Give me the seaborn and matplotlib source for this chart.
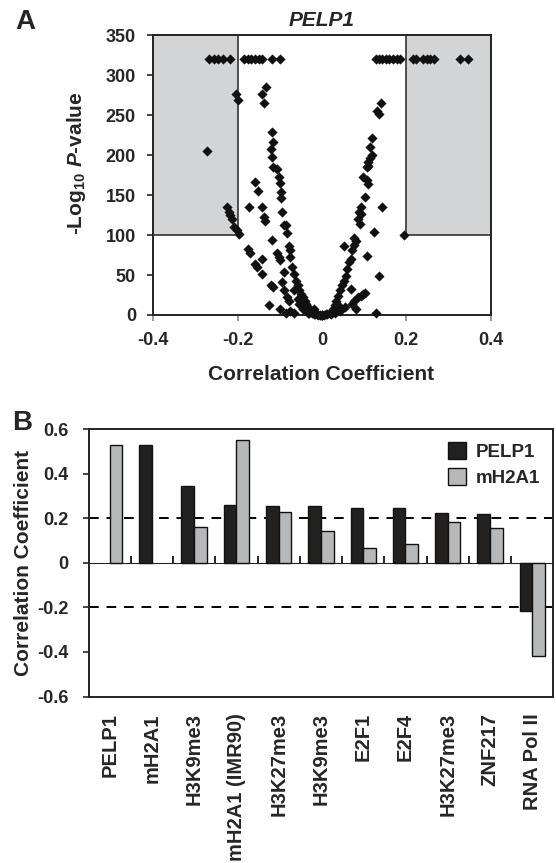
import matplotlib
matplotlib.use('Agg')
import matplotlib.pyplot as plt
import pandas as pd
import seaborn as sns

# panel A: correlation vs -log10 p
top_r = [-0.267, -0.255, -0.246, -0.234, -0.217, -0.184, -0.176, -0.168, -0.159, -0.150,
         -0.143, -0.118, -0.100, 0.127, 0.135, 0.143, 0.152, 0.160, 0.169, 0.177, 0.185,
         0.215, 0.223, 0.240, 0.248, 0.256, 0.265, 0.328, 0.346]
top_p = [320] * len(top_r)

left_r = [-0.273, -0.205, -0.200, -0.226, -0.221, -0.217, -0.213, -0.209, -0.202, -0.196,
          -0.175, -0.171, -0.158, -0.154, -0.143, -0.142, -0.121, -0.117, -0.125, -0.100,
          -0.158, -0.152, -0.174, -0.142, -0.138, -0.134, -0.118, -0.107, -0.103, -0.100,
          -0.096, -0.091, -0.091, -0.083, -0.079, -0.075, -0.066,
          -0.133, -0.142, -0.138, -0.118, -0.117, -0.121, -0.119, -0.117, -0.107, -0.103,
          -0.100, -0.098, -0.098, -0.094, -0.091, -0.085, -0.083, -0.079, -0.076, -0.075,
          -0.071, -0.066, -0.062, -0.058, -0.054, -0.049, -0.045, -0.041, -0.037, -0.033,
          -0.029, -0.024, -0.016, -0.009,
          -0.058, -0.054, -0.045, -0.066, -0.085, -0.033, -0.020]
left_p = [205, 277, 269, 135, 129, 125, 120, 110, 106, 102,
          83, 77, 64, 60, 70, 51, 37, 35, 12, 8,
          166, 155, 135, 135, 123, 118, 94, 77, 72, 69,
          41, 54, 31, 22, 18, 5, 31,
          285, 277, 266, 229, 217, 208, 198, 185, 183, 173,
          165, 154, 146, 129, 113, 113, 103, 87, 81, 72,
          60, 51, 43, 37, 31, 26, 22, 18, 14, 10,
          6, 3, 1, 0.5,
          20, 14, 8, 3, 3, 3, 8]

right_r = [0.194, 0.139, 0.131, 0.135, 0.118, 0.114, 0.118, 0.114, 0.110, 0.110,
           0.106, 0.097, 0.106, 0.110, 0.101, 0.093, 0.088, 0.093, 0.085, 0.091,
           0.143, 0.124, 0.076, 0.080, 0.075, 0.072, 0.106, 0.053, 0.068, 0.064,
           0.060, 0.056, 0.135, 0.052, 0.047, 0.043, 0.068, 0.039, 0.034, 0.030,
           0.026, 0.018, 0.009, 0.001, 0.101, 0.097, 0.093, 0.085, 0.076, 0.072,
           0.080, 0.127, 0.043, 0.055, 0.039,
           -0.004, 0.004, -0.012, 0.012, 0.0, -0.020, 0.022, 0.030, -0.030]
right_p = [100, 266, 256, 252, 221, 210, 200, 196, 192, 187,
           185, 173, 169, 164, 148, 135, 129, 127, 120, 114,
           135, 104, 97, 93, 88, 81, 74, 87, 70, 66,
           58, 49, 49, 43, 37, 31, 33, 24, 18, 12,
           8, 3, 1, 0.5, 28, 26, 24, 22, 18, 14,
           8, 3, 5, 10, 12,
           0.2, 0.2, 0.8, 0.8, 0, 1.5, 1.5, 2, 2]

r_cut = 0.2
p_cut = 100

# panel B: correlation coefficients
factors = ['PELP1', 'mH2A1', 'H3K9me3', 'mH2A1 (IMR90)', 'H3K27me3', 'H3K9me3',
           'E2F1', 'E2F4', 'H3K27me3', 'ZNF217', 'RNA Pol II']
pelp1 = [None, 0.53, 0.346, 0.258, 0.254, 0.254, 0.245, 0.245, 0.224, 0.221, -0.218]
mh2a1 = [0.53, None, 0.16, 0.551, 0.23, 0.143, 0.069, 0.085, 0.185, 0.155, -0.416]

sns.set_style('ticks')
plt.rcParams['font.family'] = ['Liberation Sans', 'DejaVu Sans']
plt.rcParams['font.weight'] = 'bold'
plt.rcParams['mathtext.fontset'] = 'custom'
plt.rcParams['mathtext.rm'] = 'Liberation Sans:bold'
plt.rcParams['mathtext.it'] = 'Liberation Sans:bold:italic'
plt.rcParams['mathtext.bf'] = 'Liberation Sans:bold'

fig = plt.figure(figsize=(5.56, 8.63), dpi=100)
axA = fig.add_axes([0.2757, 0.6350, 0.6069, 0.3239])
axB = fig.add_axes([0.1592, 0.1929, 0.8360, 0.3096])

# ---- A
gray = '#d3d4d6'
axA.fill_between([-0.4, -r_cut], p_cut, 350, color=gray, lw=0, zorder=0)
axA.fill_between([r_cut, 0.4], p_cut, 350, color=gray, lw=0, zorder=0)
axA.plot([-r_cut, -r_cut], [p_cut, 350], color='#333333', lw=1.2, zorder=1)
axA.plot([r_cut, r_cut], [p_cut, 350], color='#333333', lw=1.2, zorder=1)
axA.plot([-0.4, -r_cut], [p_cut, p_cut], color='#333333', lw=1.2, zorder=1)
axA.plot([r_cut, 0.4], [p_cut, p_cut], color='#333333', lw=1.2, zorder=1)

df_a = pd.DataFrame({'r': top_r + left_r + right_r, 'p': top_p + left_p + right_p})
sns.scatterplot(data=df_a, x='r', y='p', marker='D', color='#111111', s=27,
                linewidth=0, ax=axA, zorder=3, clip_on=False)
axA.set_xlim(-0.4, 0.4)
axA.set_ylim(0, 350)
axA.set_xticks([-0.4, -0.2, 0, 0.2, 0.4])
axA.set_xticklabels(['-0.4', '-0.2', '0', '0.2', '0.4'])
axA.set_yticks(range(0, 351, 50))
axA.set_xlabel('')
axA.set_ylabel('')
for s in axA.spines.values():
    s.set_linewidth(1.4)
    s.set_color('#222222')
axA.tick_params(axis='both', labelsize=13, length=4.5, width=1.2, direction='out')
axA.tick_params(axis='x', pad=8, color='#888888')
axA.tick_params(axis='y', pad=8)
axA.set_title('PELP1', fontsize=15, fontweight='bold', style='italic', pad=7)
fig.text(0.577, 0.5655, 'Correlation Coefficient', fontsize=15, fontweight='bold',
         ha='center', va='center')
fig.text(0.137, 0.811, r'-Log$_{10}$ $\mathit{P}$-value', fontsize=15,
         fontweight='bold', rotation=90, ha='center', va='center')

# ---- B
df_b = pd.DataFrame({
    'pos': list(range(len(factors))) * 2,
    'value': pelp1 + mh2a1,
    'series': ['PELP1'] * len(factors) + ['mH2A1'] * len(factors),
}).astype({'value': float})
sns.barplot(data=df_b, x='pos', y='value', hue='series', hue_order=['PELP1', 'mH2A1'],
            palette={'PELP1': '#231f20', 'mH2A1': '#b6b8ba'}, width=0.6, gap=0,
            edgecolor='#111111', linewidth=1.0, errorbar=None, ax=axB, zorder=2)
axB.axhline(0.2, color='black', lw=1.4, ls=(0, (5, 4)), zorder=1)
axB.axhline(-0.2, color='black', lw=1.4, ls=(0, (5, 4)), zorder=1)
axB.set_xlim(-0.5, len(factors) - 0.5)
axB.set_ylim(-0.6, 0.6)
axB.set_yticks([-0.6, -0.4, -0.2, 0, 0.2, 0.4, 0.6])
axB.set_yticklabels(['-0.6', '-0.4', '-0.2', '0', '0.2', '0.4', '0.6'])
axB.set_xticks(range(len(factors)))
axB.set_xticklabels(factors, rotation=90, va='top', ha='center')
axB.set_xlabel('')
axB.set_ylabel('')
axB.tick_params(axis='x', length=0, pad=12, labelsize=14.5)
axB.tick_params(axis='y', length=4.5, width=1.2, pad=10, labelsize=13)
for s in axB.spines.values():
    s.set_linewidth(1.4)
    s.set_color('#222222')

zero_ax = axB.secondary_xaxis(0.5)
zero_ax.set_xticks([i + 0.5 for i in range(len(factors) - 1)])
zero_ax.set_xticklabels([])
zero_ax.tick_params(axis='x', direction='out', length=5, width=1.4)
zero_ax.spines['bottom'].set_linewidth(1.6)

leg = axB.legend(loc='upper right', frameon=False, handlelength=1.0,
                 handleheight=1.0, handletextpad=0.5, labelspacing=0.35,
                 borderaxespad=0.3, prop={'weight': 'bold', 'size': 13.5})
fig.text(0.043, 0.3476, 'Correlation Coefficient', fontsize=15, fontweight='bold',
         rotation=90, ha='center', va='center')

fig.text(0.045, 0.975, 'A', fontsize=20, fontweight='bold', ha='center', va='center')
fig.text(0.040, 0.510, 'B', fontsize=20, fontweight='bold', ha='center', va='center')

fig.savefig('out.png', dpi=100)
